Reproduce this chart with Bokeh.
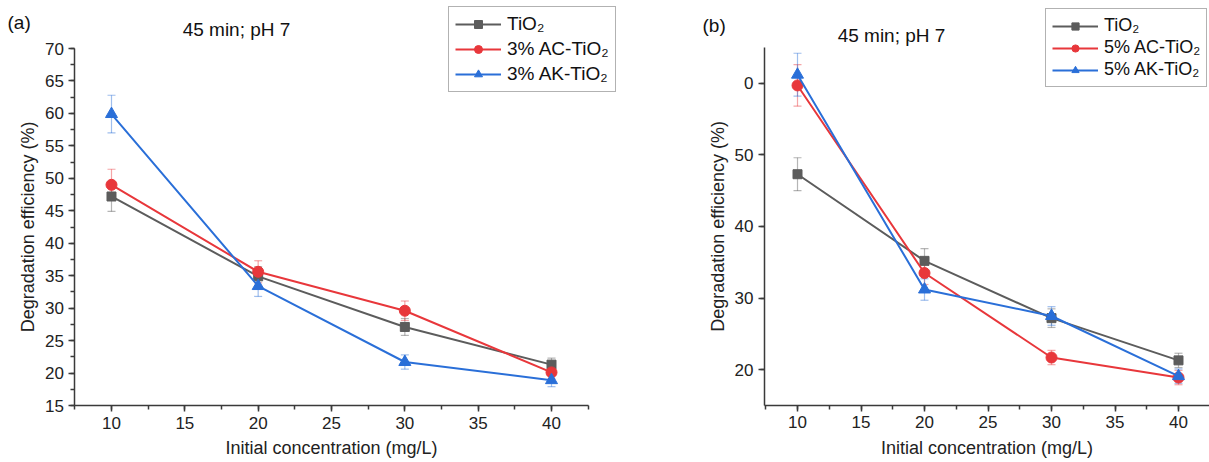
from bokeh.plotting import figure
from bokeh.models import (Whisker, TeeHead, Legend, LegendItem, Label,
                          SingleIntervalTicker, Range1d, ColumnDataSource)
from bokeh.layouts import row
from bokeh.embed import file_html
from bokeh.resources import INLINE

# ---------------- data ----------------
conc = [10, 20, 30, 40]

a_labels = ["TiO₂", "3% AC-TiO₂", "3% AK-TiO₂"]
a_tio2 = [47.2, 34.9, 27.1, 21.3]
a_tio2_err = [2.3, 1.5, 1.3, 1.0]
a_ac = [49.0, 35.6, 29.6, 20.1]
a_ac_err = [2.4, 1.7, 1.5, 1.0]
a_ak = [59.9, 33.4, 21.7, 18.9]
a_ak_err = [2.9, 1.6, 1.1, 1.0]

b_labels = ["TiO₂", "5% AC-TiO₂", "5% AK-TiO₂"]
b_tio2 = [47.3, 35.2, 27.2, 21.3]
b_tio2_err = [2.3, 1.7, 1.3, 1.0]
b_ac = [59.7, 33.5, 21.7, 18.9]
b_ac_err = [2.9, 1.6, 1.0, 1.0]
b_ak = [61.2, 31.2, 27.5, 19.1]
b_ak_err = [3.0, 1.5, 1.3, 1.0]

title_text = "45 min; pH 7"
x_title = "Initial concentration (mg/L)"
y_title = "Degradation efficiency (%)"

FONT = "Liberation Sans"
COLORS = ["#5c5c5c", "#e8373b", "#2a6fd8"]
MARKERS = ["square", "circle", "triangle"]
SIZES = [9, 11, 12]
H = 460


def style_axis(ax, interval, minor):
    ax.ticker = SingleIntervalTicker(interval=interval, num_minor_ticks=minor)
    ax.axis_line_color = "#3a3a3a"
    ax.axis_line_width = 1.5
    ax.major_tick_line_color = "#3a3a3a"
    ax.major_tick_line_width = 1.5
    ax.minor_tick_line_color = "#3a3a3a"
    ax.minor_tick_line_width = 1.5
    ax.major_tick_in = 0
    ax.major_tick_out = 6
    ax.minor_tick_in = 0
    ax.minor_tick_out = 4
    ax.major_label_text_font = FONT
    ax.major_label_text_font_size = "17px"
    ax.major_label_text_color = "#222222"
    ax.major_label_standoff = 5
    ax.axis_label_text_font = FONT
    ax.axis_label_text_font_style = "normal"
    ax.axis_label_text_color = "#222222"
    ax.axis_label_text_font_size = "18px"


def panel(width, img_left, xr, yr, xb, yb, ymajor, yminor, series, errs, labels,
          letter, letter_pos, title_pos, legend_pos, legend_gh, legend_sp,
          legend_fs, overrides=None):
    # helpers turning picture positions into this panel's data coordinates
    def dx(ix):
        return xr[0] + (ix - img_left) / width * (xr[1] - xr[0])

    def dy(iy):
        return yr[1] - iy / H * (yr[1] - yr[0])

    p = figure(width=width, height=H, x_range=Range1d(*xr), y_range=Range1d(*yr),
               output_backend="svg", toolbar_location=None,
               min_border_left=0, min_border_right=0,
               min_border_top=0, min_border_bottom=0)
    p.outline_line_color = None
    p.grid.visible = False
    p.background_fill_color = "white"
    p.border_fill_color = "white"

    style_axis(p.xaxis[0], 5, 2)
    style_axis(p.yaxis[0], ymajor, yminor)
    p.xaxis.fixed_location = yb[0]
    p.yaxis.fixed_location = xb[0]
    p.xaxis.bounds = xb
    p.yaxis.bounds = yb
    p.xaxis.axis_label = x_title
    p.xaxis.axis_label_standoff = 6
    p.yaxis.axis_label = y_title
    p.yaxis.axis_label_standoff = 4
    if overrides:
        p.yaxis.major_label_overrides = overrides

    items = []
    for vals, err, col, mk, sz, lab in zip(series, errs, COLORS, MARKERS, SIZES, labels):
        src = ColumnDataSource(dict(x=conc, y=vals,
                                    lo=[v - e for v, e in zip(vals, err)],
                                    hi=[v + e for v, e in zip(vals, err)]))
        w = Whisker(source=src, base="x", upper="hi", lower="lo",
                    line_color=col, line_alpha=0.45, line_width=1.2,
                    upper_head=TeeHead(size=8, line_color=col, line_alpha=0.45, line_width=1.2),
                    lower_head=TeeHead(size=8, line_color=col, line_alpha=0.45, line_width=1.2))
        p.add_layout(w)
        ln = p.line("x", "y", source=src, line_color=col, line_width=2)
        sc = p.scatter("x", "y", source=src, marker=mk, size=sz,
                       fill_color=col, line_color=col)
        items.append(LegendItem(label=lab, renderers=[ln, sc]))

    leg = Legend(items=items,
                 location=(legend_pos[0] - img_left, H - legend_pos[1]))
    leg.label_text_font = FONT
    leg.label_text_font_size = legend_fs
    leg.label_text_color = "#111111"
    leg.glyph_width = 46
    leg.glyph_height = legend_gh
    leg.label_height = legend_gh
    leg.spacing = legend_sp
    leg.padding = 6
    leg.margin = 0
    leg.label_standoff = 6
    leg.border_line_color = "#666666"
    leg.border_line_width = 1
    leg.background_fill_color = "white"
    leg.background_fill_alpha = 1
    p.add_layout(leg)

    p.add_layout(Label(x=dx(letter_pos[0]), y=dy(letter_pos[1]), text=letter,
                       text_font=FONT, text_font_size="19px", text_color="#111111",
                       text_align="left", text_baseline="middle"))
    p.add_layout(Label(x=dx(title_pos[0]), y=dy(title_pos[1]), text=title_text,
                       text_font=FONT, text_font_size="19px", text_color="#111111",
                       text_align="center", text_baseline="middle"))
    return p


pa = panel(680, 0, (2.432, 48.795), (6.527, 77.395), (7.5, 42.5), (15, 70), 5, 2,
           [a_tio2, a_ac, a_ak], [a_tio2_err, a_ac_err, a_ak_err], a_labels,
           "(a)", (7, 22), (236, 29), (448, 92), 20, 3, "19px")

pb = panel(529, 680, (0.787, 42.441), (7.318, 71.564), (7.4, 42.5), (15, 65), 10, 1,
           [b_tio2, b_ac, b_ak], [b_tio2_err, b_ac_err, b_ak_err], b_labels,
           "(b)", (702, 25), (891, 35), (1045, 87), 18, 1, "18px",
           overrides={60: "0"})

layout = row(pa, pb)
open("out.html", "w").write(file_html(layout, INLINE))
